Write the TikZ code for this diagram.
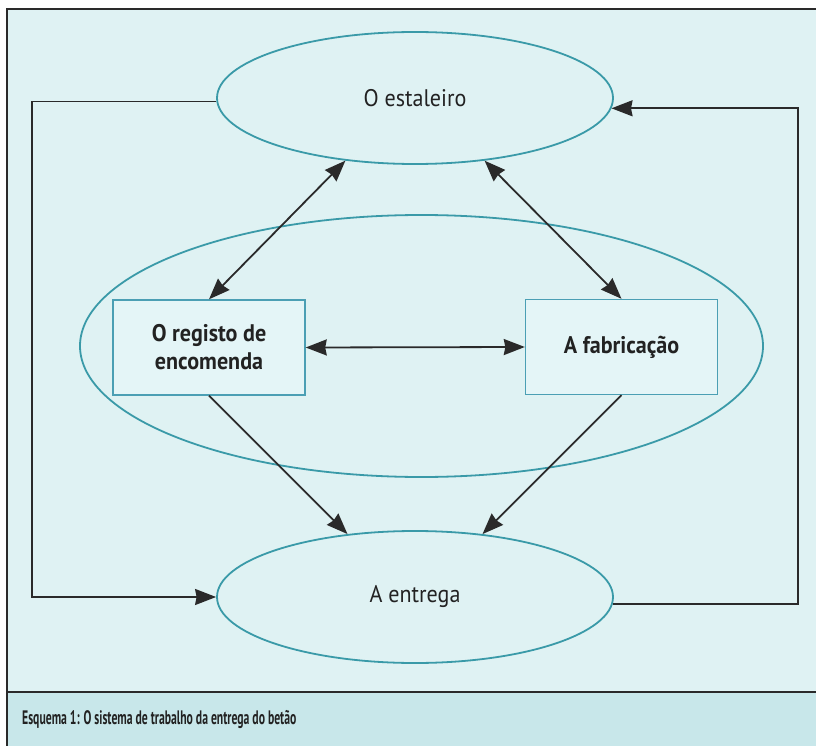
\documentclass[tikz,border=0pt]{standalone}
\usepackage{fontspec}
\setmainfont{PT Sans}
\newfontfamily\capfont[FakeStretch=0.6]{PT Sans}
\newfontfamily\lblfont[FakeStretch=0.92]{PT Sans}
\usetikzlibrary{shapes.geometric,arrows.meta}
\definecolor{bgc}{HTML}{DFF2F3}
\definecolor{capc}{HTML}{C8E7EA}
\definecolor{tealc}{HTML}{3A9AA8}
\definecolor{boxc}{HTML}{4B9FB4}
\definecolor{boxfill}{HTML}{E4F5F7}
\definecolor{linec}{HTML}{2A2A2A}
\definecolor{txtc}{HTML}{222222}
\begin{document}
\begin{tikzpicture}[x=1pt,y=-1pt,
  framel/.style={draw=linec,line width=1.8pt},
  ell/.style={ellipse,draw=tealc,line width=1.8pt,inner sep=0pt,
    text=txtc,font=\lblfont\fontsize{24}{28}\selectfont},
  boxn/.style={rectangle,draw=boxc,fill=boxfill,line width=1.4pt,
    minimum width=192pt,minimum height=95pt,inner sep=0pt,align=center,
    text=txtc,font=\lblfont\bfseries\fontsize{24}{28}\selectfont},
  conn/.style={draw=linec,line width=1.8pt},
  hd/.tip={Stealth[length=21pt,width=16pt,inset=1.5pt]},
  tip/.style={-hd},
  both/.style={hd-hd}]
\useasboundingbox (0,0) rectangle (816,746);
\fill[white] (0,0) rectangle (816,746);
\fill[bgc] (7,9) rectangle (816,692);
\fill[capc] (7,692) rectangle (816,746);
\draw[framel] (816,9) -- (7,9) -- (7,746);
\draw[framel] (7,692) -- (816,692);
% big middle ellipse
\node[ell,minimum width=683pt,minimum height=262pt] (mid) at (421.5,346) {};
% ellipses
\node[ell,minimum width=396pt,minimum height=132pt] (top) at (415,98) {O estaleiro};
\node[ell,minimum width=396pt,minimum height=132pt] (bot) at (415,597) {A entrega};
% boxes
\node[boxn] (reg) at (209,347.5) {O registo de\\encomenda};
\node[boxn] (fab) at (621.5,347) {A fabricação};
% helper coordinates
\coordinate (lx) at (32,0);
\coordinate (rx) at (798,0);
% connectors
\draw[conn,both] (top.222) -- (reg.north);
\draw[conn,both] (top.318) -- (fab.north);
\draw[conn,both] (reg.east) -- (fab.west);
\draw[conn,tip] (reg.south) -- (bot.137);
\draw[conn,tip] (fab.south) -- (bot.43);
\draw[conn,tip] (top.181.5) -- (top.181.5 -| lx) |- (bot.west);
\draw[conn,tip] (bot.-2) -- (bot.-2 -| rx) |- (top.-3.5);
% caption
\node[anchor=west,inner sep=0pt,text=txtc,font=\capfont\bfseries\fontsize{19.5}{22}\selectfont] (cap) at (22,720) {Esquema 1: O sistema de trabalho da entrega do betão};
\end{tikzpicture}
\end{document}
